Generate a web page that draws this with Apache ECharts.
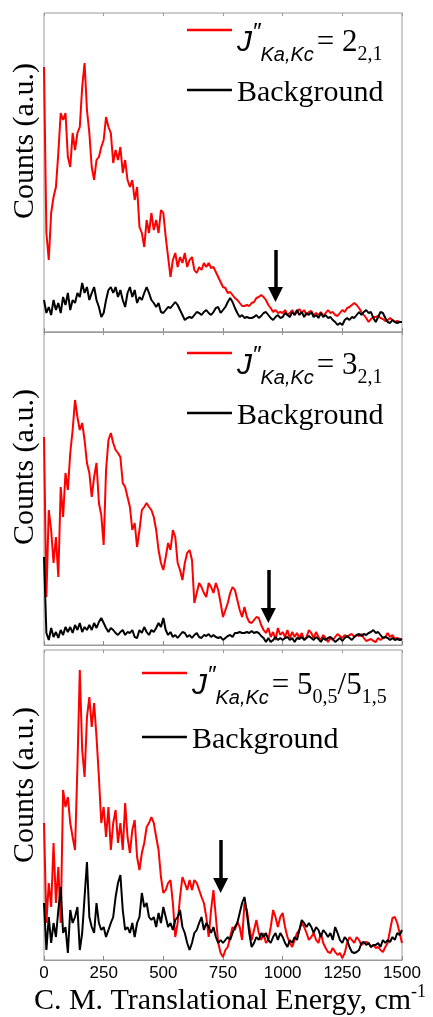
<!DOCTYPE html>
<html>
<head>
<meta charset="utf-8">
<script src="https://cdn.jsdelivr.net/npm/echarts@6/dist/echarts.min.js"></script>
<style>
html,body{margin:0;padding:0;background:#fff;}
#chart{width:433px;height:1017px;}
</style>
</head>
<body>
<div id="chart"></div>
<script>
// Energy grid (cm^-1)
const energies = [0,10,20,30,40,50,60,70,80,90,100,110,120,130,140,150,160,170,180,190,200,210,220,230,240,250,260,270,280,290,300,310,320,330,340,350,360,370,380,390,400,410,420,430,440,450,460,470,480,490,500,510,520,530,540,550,560,570,580,590,600,610,620,630,640,650,660,670,680,690,700,710,720,730,740,750,760,770,780,790,800,810,820,830,840,850,860,870,880,890,900,910,920,930,940,950,960,970,980,990,1000,1010,1020,1030,1040,1050,1060,1070,1080,1090,1100,1110,1120,1130,1140,1150,1160,1170,1180,1190,1200,1210,1220,1230,1240,1250,1260,1270,1280,1290,1300,1310,1320,1330,1340,1350,1360,1370,1380,1390,1400,1410,1420,1430,1440,1450,1460,1470,1480,1490,1500];
const xTicks = [0,250,500,750,1000,1250,1500];

// Panel 1: J = 2_{2,1}
const p1Red = [265,99,72,119,135,145,179,219,212,219,
175,165,199,182,199,205,245,269,222,199,
165,152,172,175,185,192,215,205,199,169,
182,172,185,159,172,152,145,152,132,145,
105,99,85,112,99,119,102,112,99,122,
119,95,75,55,72,79,65,75,69,79,
65,72,75,62,59,65,62,69,65,69,
64,65,60,55,50,45,44,39,40,37,
34,32,29,26,26,27,26,29,30,34,
35,37,35,32,27,24,20,22,19,20,
19,22,17,19,22,17,20,23,19,22,
17,20,21,17,19,17,20,16,19,22,
19,20,17,16,19,22,20,24,25,27,
29,27,24,20,17,14,10,13,15,15,
16,14,13,11,12,14,12,10,11,10,
10];
const p1Bg = [32,19,25,17,32,22,29,19,35,27,
39,22,32,29,39,35,49,39,45,32,
39,45,32,25,15,19,32,42,45,39,
45,35,42,32,25,39,45,35,42,29,
35,32,39,45,39,32,29,25,29,20,
19,22,25,24,27,30,27,22,17,12,
14,15,14,17,20,19,17,20,22,19,
17,20,24,25,19,22,25,30,34,30,
24,19,15,17,14,15,14,14,15,17,
14,16,19,20,17,14,12,15,17,14,
15,19,17,15,20,17,22,17,20,15,
19,17,20,15,17,14,19,15,17,14,
15,12,10,7,9,7,12,14,12,15,
14,17,20,17,20,22,19,20,14,10,
15,20,19,14,10,9,12,10,9,10,
10];

// Panel 2: J = 3_{2,1}
const p2Red = [208,48,135,115,82,108,68,158,128,172,
155,192,215,245,228,215,222,205,182,172,
148,168,182,142,130,100,175,205,212,202,
195,192,188,162,158,148,138,115,122,98,
115,135,138,142,138,135,128,115,95,82,
75,88,102,95,115,108,82,75,65,82,
92,95,85,42,52,62,58,52,48,62,
58,52,62,55,42,28,35,42,52,58,
55,45,35,28,38,28,23,22,25,28,
27,20,15,12,17,8,13,5,17,10,
13,8,15,7,13,8,12,7,12,5,
8,15,12,7,13,8,5,10,7,3,
7,5,8,11,9,7,10,8,10,11,
8,10,9,11,7,4,5,6,4,3,
7,5,7,8,12,8,10,6,7,6,
5];
const p2Bg = [88,12,5,17,8,13,7,15,10,18,
13,18,12,20,15,22,13,18,15,20,
15,22,17,23,27,22,17,13,17,15,
12,10,13,15,10,13,12,15,8,7,
15,12,18,13,10,15,13,17,22,18,
27,15,10,13,8,10,7,10,13,12,
8,10,7,10,12,8,7,10,9,11,
8,10,8,7,8,5,7,9,10,8,
12,12,13,12,12,13,12,14,12,13,
12,9,7,3,7,3,5,8,5,7,
5,7,8,5,7,3,7,6,8,5,
7,9,7,5,8,6,3,7,5,7,
8,6,3,5,7,4,7,9,7,5,
8,10,11,9,11,10,12,13,15,12,
13,10,7,8,7,5,7,5,6,5,
6];

// Panel 3: J = 5_{0,5}/5_{1,5}
const p3Red = [137,37,77,53,117,57,93,37,170,153,
163,137,123,110,193,290,210,183,243,263,
233,257,223,183,137,153,123,153,110,137,
150,117,137,110,157,123,107,130,140,103,
90,107,117,133,137,143,137,123,110,83,
67,70,77,80,57,23,37,63,83,77,
70,80,70,80,77,70,63,57,43,23,
50,70,43,17,7,3,10,13,23,33,
30,38,33,20,57,50,33,20,30,40,
27,20,27,17,20,33,50,43,33,43,
47,33,23,17,13,20,27,30,37,33,
27,20,23,27,20,17,27,17,12,8,
7,12,8,5,7,2,7,17,23,20,
17,23,20,15,17,18,17,13,15,12,
13,10,8,13,17,30,42,43,37,27,
17];
const p3Bg = [57,10,43,17,37,23,50,73,27,33,
7,50,37,43,53,10,27,63,98,43,
33,27,57,37,30,33,23,30,37,43,
63,77,85,50,30,33,27,37,23,37,
43,67,53,57,43,40,43,33,47,37,
53,43,33,37,30,40,43,50,33,27,
17,10,17,27,30,37,43,30,37,33,
27,33,23,17,20,17,20,23,20,27,
33,37,47,57,63,47,27,13,17,23,
20,27,23,27,20,17,23,27,20,27,
23,17,13,20,17,23,20,30,40,37,
33,37,33,27,33,30,23,30,27,23,
27,20,33,27,20,17,23,20,13,8,
7,8,10,17,18,15,17,13,15,15,
17,13,20,17,20,18,23,20,27,25,
30];

// Arrow markers: [energy, top, end]
const arrows = [[970, 82, 37.5], [940, 75, 29.5], [740, 120, 74.5]];
const panelMax = [319, 313, 310];
const redNames = ['red1', 'red2', 'red3'];
const redLabels = [
  '{j|J}{p|″}{s|Ka,Kc}{m|= 2}{t|2,1}',
  '{j|J}{p|″}{s|Ka,Kc}{m|= 3}{t|2,1}',
  '{j|J}{p|″}{s|Ka,Kc}{m|= 5}{t|0,5}{n|/5}{t|1,5}'
];
const yTitle = 'Counts (a.u.)';
const xTitle = 'C. M. Translational Energy, cm';

const pairs = (vals) => energies.map((e, i) => [e, vals[i]]);
const redData = [p1Red, p2Red, p3Red];
const bgData = [p1Bg, p2Bg, p3Bg];

const grids = [
  {left: 44, right: 31, top: 13, height: 319},
  {left: 44, right: 31, top: 332, height: 313},
  {left: 44, right: 31, top: 650, height: 310}
].map(g => Object.assign(g, {show: true, borderColor: '#9a9a9a', borderWidth: 1, backgroundColor: 'transparent'}));

const xAxes = [];
const yAxes = [];
for (let i = 0; i < 3; i++) {
  const bottom = {
    type: 'value', gridIndex: i, min: 0, max: 1500, interval: 250, position: 'bottom',
    axisLine: {show: true, lineStyle: {color: '#9a9a9a', width: 1}},
    axisTick: {show: true, inside: true, length: 4, lineStyle: {color: '#888'}},
    splitLine: {show: false},
    axisLabel: {show: i === 2, color: '#000', fontFamily: 'Liberation Sans', fontSize: 17, margin: 5,
      formatter: v => String(v)}
  };
  if (i === 2) {
    bottom.name = '{a|' + xTitle + '}{b|-1}';
    bottom.nameLocation = 'middle';
    bottom.nameGap = 23;
    bottom.nameTextStyle = {
      fontFamily: 'Liberation Serif', fontSize: 30, color: '#000',
      padding: [0, 0, 0, 14],
      rich: {
        a: {fontFamily: 'Liberation Serif', fontSize: 30, lineHeight: 36, verticalAlign: 'middle', color: '#000'},
        b: {fontFamily: 'Liberation Serif', fontSize: 18, lineHeight: 18, verticalAlign: 'top', color: '#000'}
      }
    };
  }
  xAxes.push(bottom);
  xAxes.push({
    type: 'value', gridIndex: i, min: 0, max: 1500, interval: 250, position: 'top',
    axisLine: {show: false}, axisLabel: {show: false}, splitLine: {show: false},
    axisTick: {show: true, inside: true, length: 3, lineStyle: {color: '#999'}}
  });
  yAxes.push({type: 'value', gridIndex: i, min: 0, max: panelMax[i], show: false});
}

const series = [];
for (let i = 0; i < 3; i++) {
  const a = arrows[i];
  series.push({
    name: redNames[i], type: 'line', xAxisIndex: 2 * i, yAxisIndex: i,
    data: pairs(redData[i]), showSymbol: false, symbol: 'none',
    color: '#ff0000', lineStyle: {color: '#ff0000', width: 2}, z: 2,
    markLine: {
      silent: true, symbol: ['none', 'triangle'], symbolSize: 15,
      label: {show: false}, animation: false,
      lineStyle: {color: '#000', width: 3.5, type: 'solid'},
      emphasis: {disabled: true},
      data: [[{coord: [a[0], a[1]]}, {coord: [a[0], a[2]]}]]
    }
  });
  series.push({
    name: 'Background', type: 'line', xAxisIndex: 2 * i, yAxisIndex: i,
    data: pairs(bgData[i]), showSymbol: false, symbol: 'none',
    color: '#000', lineStyle: {color: '#000', width: 2}, z: 3
  });
}

const iconJ = 'path://M0,0H45V2.5H0Z M0,28.5H0.01V28.51H0Z';
const iconB = 'path://M0,0H45V2.5H0Z M0,8.5H0.01V8.51H0Z';
const richJ = {
  j: {fontFamily: 'Liberation Sans', fontStyle: 'italic', fontSize: 30, lineHeight: 44, verticalAlign: 'middle', color: '#000'},
  p: {fontFamily: 'Liberation Sans', fontStyle: 'italic', fontSize: 24, lineHeight: 34, verticalAlign: 'top', color: '#000'},
  s: {fontFamily: 'Liberation Sans', fontStyle: 'italic', fontSize: 20, lineHeight: 20, verticalAlign: 'bottom', color: '#000'},
  m: {fontFamily: 'Liberation Serif', fontSize: 31, lineHeight: 44, verticalAlign: 'middle', color: '#000', padding: [0, 0, 0, 3]},
  n: {fontFamily: 'Liberation Serif', fontSize: 31, lineHeight: 44, verticalAlign: 'middle', color: '#000'},
  t: {fontFamily: 'Liberation Serif', fontSize: 20, lineHeight: 20, verticalAlign: 'bottom', color: '#000'}
};
const legendPos = [[187, 30, 90], [187, 353, 413], [142, 673, 737]];
const legends = [];
for (let i = 0; i < 3; i++) {
  const lp = legendPos[i];
  legends.push({
    left: lp[0], top: lp[1] - 9, padding: 0, itemWidth: 45, itemHeight: 28.5,
    icon: iconJ, selectedMode: false, data: [redNames[i]],
    itemStyle: {borderWidth: 0},
    formatter: () => redLabels[i],
    textStyle: {color: '#000', rich: richJ}
  });
  legends.push({
    left: lp[0], top: lp[2] - 15, padding: 0, itemWidth: 45, itemHeight: 8.5,
    icon: iconB, selectedMode: false, data: ['Background'],
    itemStyle: {borderWidth: 0},
    textStyle: {color: '#000', fontFamily: 'Liberation Serif', fontSize: 30, lineHeight: 36}
  });
}

const yTitleCenters = [141, 467, 785];
const graphics = yTitleCenters.map(cy => ({
  type: 'text', x: 25, y: cy, rotation: Math.PI / 2, silent: true,
  style: {text: yTitle, font: '30px "Liberation Serif"', fill: '#000', align: 'center', verticalAlign: 'middle'}
}));

const chart = echarts.init(document.getElementById('chart'), null, {renderer: 'canvas'});
chart.setOption({
  backgroundColor: '#fff',
  animation: false,
  grid: grids,
  xAxis: xAxes,
  yAxis: yAxes,
  legend: legends,
  graphic: graphics,
  series: series
});
</script>
</body>
</html>
